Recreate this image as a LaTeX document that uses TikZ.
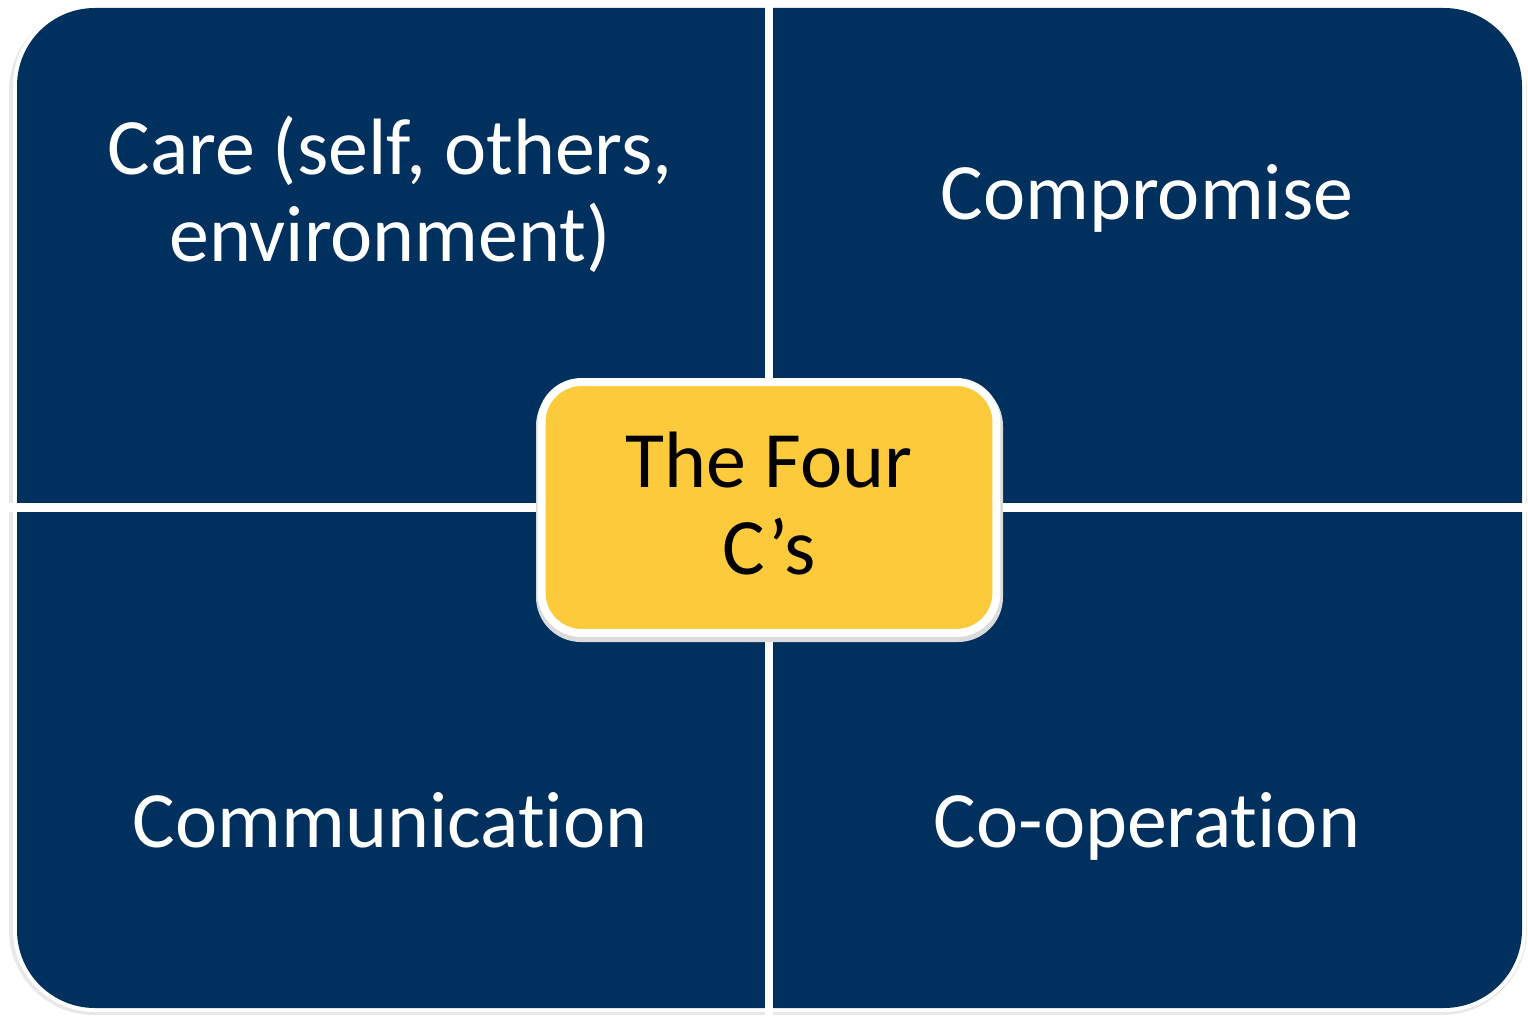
\documentclass[tikz,border=0pt]{standalone}
\usepackage{fontspec}
\setmainfont{Carlito}[Ligatures=NoCommon]
\definecolor{navy}{RGB}{0,48,94}
\definecolor{gold}{RGB}{252,202,58}
\tikzset{
	quadtext/.style={text=white,font=\fontsize{45.5}{49.5}\selectfont,align=center},
	hub/.style={fill=gold,draw=white,line width=0.16cm,rounded corners=0.8cm,
		minimum width=9.1cm,minimum height=5.02cm,align=center,
		font=\fontsize{45.5}{49.5}\selectfont}
}
\begin{document}
\begin{tikzpicture}[x=0.02cm,y=-0.02cm]
				\useasboundingbox (0,0) rectangle (1528,1017);
				\coordinate (NW) at (17,8);
				\coordinate (SE) at (1522,1008);
				\coordinate (M) at (769,507.5);
				\coordinate (Mt) at (769,3);
				\coordinate (Mb) at (769,1015);
				\coordinate (Ml) at (6,507.5);
				\coordinate (Mr) at (1528,507.5);
				% rim and soft shadow round the four fields
				\fill[black!9,rounded corners=1.7cm] (9,6) rectangle (1527,1015);
				\fill[white,rounded corners=1.64cm] (13,4) rectangle (1526,1012);
				\fill[navy,rounded corners=1.56cm] (NW) rectangle (SE);
				\draw[white,line width=0.16cm] (Mt) to (Mb);
				\draw[white,line width=0.18cm] (Ml) to (Mr);
				\node[quadtext] (care) at (390,194) {Care (self, others,\\environment)};
				\node[quadtext,anchor=base] (compromise) at (1147,219) {Compromise};
				\node[quadtext,anchor=base] (communication) at (390,847) {Communication};
				\node[quadtext,anchor=base] (cooperation) at (1147,847) {Co-operation};
				\fill[black!14,rounded corners=0.9cm] (536,381) rectangle (1003,642);
				\node[hub] (fourcs) at (M) {The Four\\C’s\rule[-4.5pt]{0pt}{0pt}};
			\end{tikzpicture}
\end{document}
